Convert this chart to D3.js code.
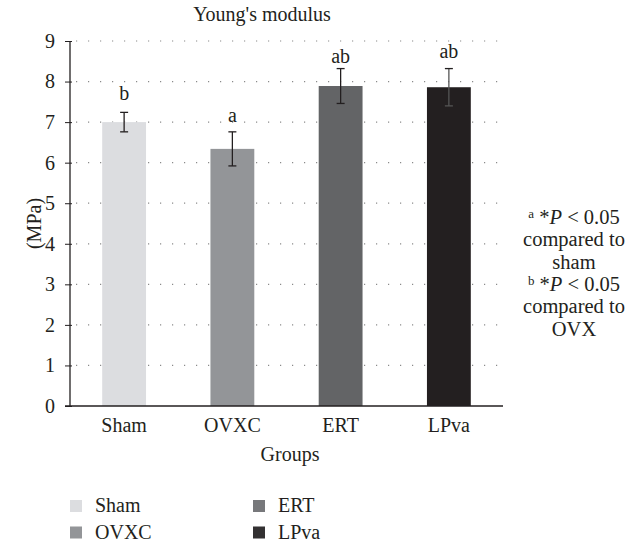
<!DOCTYPE html>
<html><head><meta charset="utf-8">
<script src="https://cdn.jsdelivr.net/npm/d3@7/dist/d3.min.js"></script>
</head><body style="margin:0;background:#fff">
<svg id="c" width="638" height="545"></svg>
<script>
const groups = ["Sham", "OVXC", "ERT", "LPva"];
const values = [7.0, 6.34, 7.89, 7.86];
const errors = [0.24, 0.42, 0.43, 0.46];
const sigLabels = ["b", "a", "ab", "ab"];
const sigLabelY = [7.54, 7.0, 8.46, 8.57];
const colors = ["#dcdde0", "#939598", "#636466", "#231f20"];
const legendColors = ["#dcdde0", "#939598", "#77787b", "#333132"];
const yTicks = [0,1,2,3,4,5,6,7,8,9];
const annText = [
  {sup:"a", t:" *", p:"P", r:" < 0.05"}, {t:"compared to"}, {t:"sham"},
  {sup:"b", t:" *", p:"P", r:" < 0.05"}, {t:"compared to"}, {t:"OVX"}
];

const FONT = '"Liberation Serif"';
const FS = 20;
const INK = "#231f20";
const svg = d3.select("#c");
const m = {l:70, r:135, t:41, b:139};
const W = 638, H = 545;
const x = d3.scaleBand().domain(groups).range([m.l, W - m.r]).paddingInner(0.595).paddingOuter(0.2975);
const y = d3.scaleLinear().domain([0, 9]).range([H - m.b, m.t]);

function txt(sel, fs) { return sel.style("font-family", FONT).style("font-size", (fs || FS) + "px").attr("fill", INK); }

// gridlines
svg.append("g").selectAll("line").data(yTicks.filter(d => d > 0)).join("line")
  .attr("x1", m.l + 6).attr("x2", W - m.r).attr("y1", d => y(d)).attr("y2", d => y(d))
  .attr("stroke", "#8a8a8a").attr("stroke-width", 1.2).attr("stroke-dasharray", "1.2,10.8");

// bars
svg.append("g").selectAll("rect").data(groups).join("rect")
  .attr("x", d => x(d)).attr("width", x.bandwidth())
  .attr("y", (d,i) => y(values[i])).attr("height", (d,i) => y(0) - y(values[i]))
  .attr("fill", (d,i) => colors[i]);

// error bars
const eg = svg.append("g").attr("stroke", INK).attr("stroke-width", 1.3);
groups.forEach((g, i) => {
  const cx = x(g) + x.bandwidth()/2;
  const lo = y(values[i] - errors[i]), hi = y(values[i] + errors[i]);
  const col = i === 3 ? "#555" : INK;
  eg.append("line").attr("x1", cx).attr("x2", cx).attr("y1", lo).attr("y2", hi).attr("stroke", col);
  eg.append("line").attr("x1", cx-4).attr("x2", cx+4).attr("y1", hi).attr("y2", hi);
  eg.append("line").attr("x1", cx-4).attr("x2", cx+4).attr("y1", lo).attr("y2", lo).attr("stroke", col);
  txt(svg.append("text")).attr("x", cx).attr("y", y(sigLabelY[i])).attr("text-anchor", "middle").text(sigLabels[i]);
});

// y axis
const ya = svg.append("g").attr("transform", `translate(${m.l},0)`)
  .call(d3.axisLeft(y).tickValues(yTicks).tickSize(5).tickPadding(10).tickFormat(d3.format("d")));
ya.attr("font-family", null).attr("font-size", null);
ya.select(".domain").attr("stroke", INK).attr("stroke-width", 1.3).attr("d", `M0,${y(9)}V${y(0)}`);
ya.selectAll(".tick line").attr("stroke", INK).attr("x2", -5).attr("x1", 2);
txt(ya.selectAll(".tick text"));

// x axis
const xa = svg.append("g").attr("transform", `translate(0,${y(0)})`)
  .call(d3.axisBottom(x).tickSize(0).tickPadding(12));
xa.attr("font-family", null).attr("font-size", null);
xa.select(".domain").attr("stroke", INK).attr("stroke-width", 1.3).attr("d", `M${m.l-5},0H${W - m.r}`);
txt(xa.selectAll(".tick text"));

// titles
txt(svg.append("text")).attr("x", 262).attr("y", 21).attr("text-anchor", "middle").text("Young's modulus");
txt(svg.append("text")).attr("x", 290).attr("y", 461).attr("text-anchor", "middle").text("Groups");
txt(svg.append("text")).attr("transform", `translate(41,${y(4.5)}) rotate(-90)`).attr("text-anchor", "middle").text("(MPa)");

// annotation
annText.forEach((l, i) => {
  const t = txt(svg.append("text"), 20.5).attr("x", 574).attr("y", 224 + i * 22.3).attr("text-anchor", "middle");
  if (l.sup) {
    t.append("tspan").style("font-size", "13px").attr("dy", -6).text(l.sup);
    t.append("tspan").attr("dy", 6).text(l.t);
    t.append("tspan").style("font-style", "italic").text(l.p);
    t.append("tspan").text(l.r);
  } else t.text(l.t);
});

// legend
groups.forEach((g, i) => {
  const lx = i < 2 ? 70 : 253;
  const ly = i % 2 === 0 ? 500 : 526.5;
  svg.append("rect").attr("x", lx).attr("y", ly).attr("width", 12).attr("height", 12).attr("fill", legendColors[i]);
  txt(svg.append("text")).attr("x", lx + 25).attr("y", ly + 12).text(g);
});
</script>
</body></html>
